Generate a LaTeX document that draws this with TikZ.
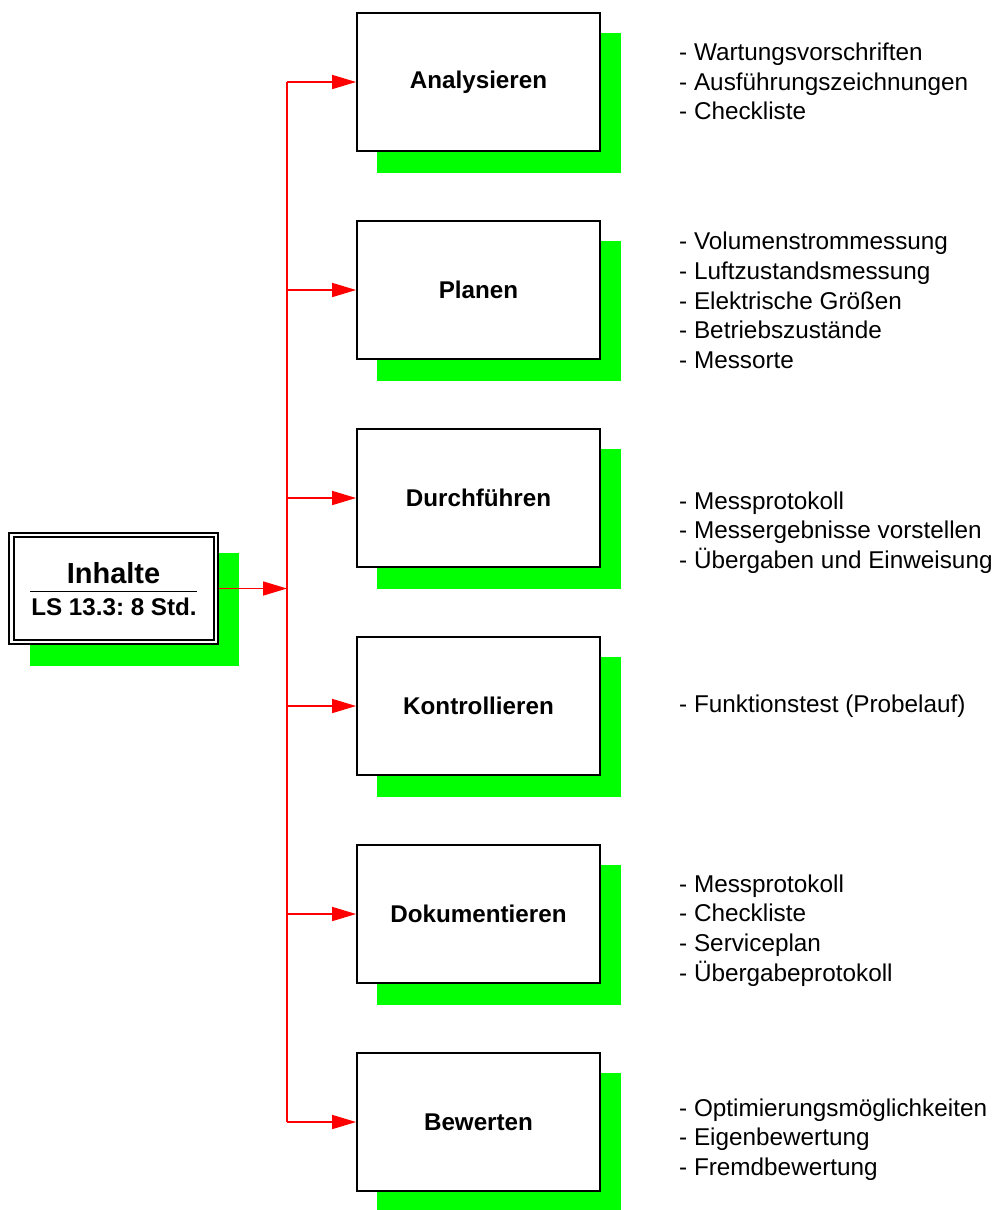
\documentclass[tikz,border=0pt]{standalone}
\usepackage{fontspec}
\setmainfont{Liberation Sans}
\usetikzlibrary{arrows.meta}
\definecolor{shadowgreen}{RGB}{0,255,0}
\definecolor{linkred}{RGB}{255,0,0}
\frenchspacing
\begin{document}
\begin{tikzpicture}[x=1pt,y=-1pt,
  stepbox/.style={draw=black,line width=1.8pt,fill=white,minimum width=243pt,
    minimum height=138pt,inner sep=0pt,font=\fontsize{24.2}{29}\selectfont\bfseries},
  listtext/.style={anchor=west,inner sep=0pt,align=left,
    font=\fontsize{24.3}{29.7}\selectfont},
  link/.style={draw=linkred,line width=1.6pt},
  linkarrow/.style={link,-{Triangle[length=24pt,width=14pt]}},
  shade/.style={fill=shadowgreen}]
\useasboundingbox (0,0) rectangle (997,1210);

% green drop shadows
\fill[shade] (30,553) rectangle (239,666);
\foreach \y in {82,290,498,706,914,1122}
  \fill[shade] (377,\y-49) rectangle (621,\y+91);

% summary box with double frame
\node[draw=black,line width=1.8pt,fill=white,minimum width=209pt,minimum height=111pt,
  inner sep=0pt] (inh) at (113.5,588.5) {};
\draw[line width=1.4pt] (14,537) rectangle (214,640);
\node[font=\fontsize{29}{34}\selectfont\bfseries,inner sep=0pt] (inhtitle) at (113.5,573) {Inhalte};
\draw[line width=1pt] (30,591) -- (197,591);
\node[font=\fontsize{24.2}{29}\selectfont\bfseries,inner sep=0pt] (inhsub) at (114,607) {LS 13.3: 8 Std.};

% step boxes
\node[stepbox] (s1) at (478.5,82) {Analysieren};
\node[stepbox] (s2) at (478.5,290) {Planen};
\node[stepbox] (s3) at (478.5,498) {Durchführen};
\node[stepbox] (s4) at (478.5,706) {Kontrollieren};
\node[stepbox] (s5) at (478.5,914) {Dokumentieren};
\node[stepbox] (s6) at (478.5,1122) {Bewerten};

% trunk coordinates
\coordinate (t1) at (287,82);
\coordinate (t2) at (287,290);
\coordinate (t3) at (287,498);
\coordinate (t4) at (287,706);
\coordinate (t5) at (287,914);
\coordinate (t6) at (287,1122);
\coordinate (tin) at (287,588.5);

% connectors
\draw[link] (t1) -- (t6);
\draw[linkarrow] (inh.east) -- (tin);
\foreach \i in {1,...,6}
  \draw[linkarrow] (t\i) -- (s\i.west);

% content lists
\node[listtext] (l1) at (679,81.5) {- Wartungsvorschriften\\- Ausführungszeichnungen\\- Checkliste};
\node[listtext] (l2) at (679,300.5) {- Volumenstrommessung\\- Luftzustandsmessung\\- Elektrische Größen\\- Betriebszustände\\- Messorte};
\node[listtext] (l3) at (679,532.5) {- Messprotokoll\\- Messergebnisse vorstellen\\- Übergaben und Einweisung};
\node[listtext] (l4) at (679,706) {- Funktionstest (Probelauf)};
\node[listtext] (l5) at (679,930.5) {- Messprotokoll\\- Checkliste\\- Serviceplan\\- Übergabeprotokoll};
\node[listtext] (l6) at (679,1139.5) {- Optimierungsmöglichkeiten\\- Eigenbewertung\\- Fremdbewertung};
\end{tikzpicture}
\end{document}
